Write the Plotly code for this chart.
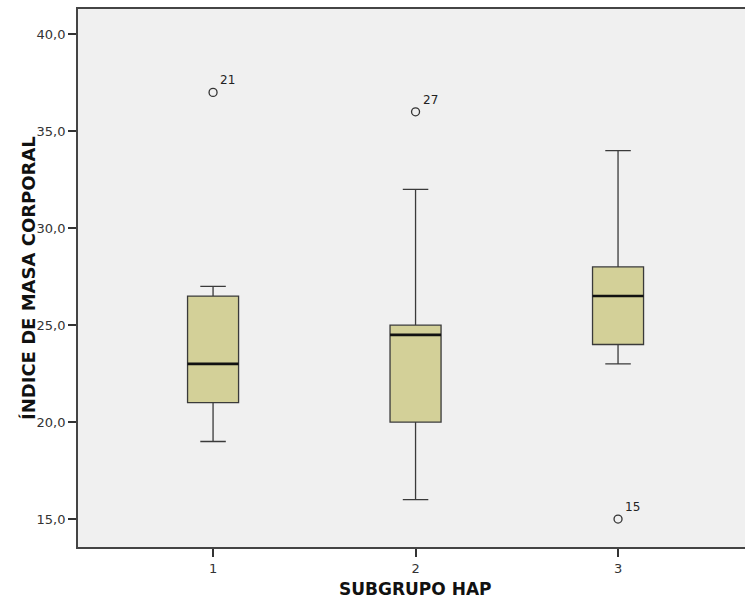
import plotly.graph_objects as go

# ---- data ----
groups = [1, 2, 3]
group_labels = ["1", "2", "3"]
lower_whisker = [19.0, 16.0, 23.0]
q1_vals = [21.0, 20.0, 24.0]
median_vals = [23.0, 24.5, 26.5]
q3_vals = [26.5, 25.0, 28.0]
upper_whisker = [27.0, 32.0, 34.0]

outlier_x = [1, 2, 3]
outlier_y = [37.0, 36.0, 15.0]
outlier_ids = ["21", "27", "15"]

y_ticks = [15, 20, 25, 30, 35, 40]
y_tick_text = ["15,0", "20,0", "25,0", "30,0", "35,0", "40,0"]

x_title = "SUBGRUPO HAP"
y_title = "ÍNDICE DE MASA CORPORAL"

BOX_W = 0.252
FILL = "#d3d098"
LINE = "#3a3a3a"

fig = go.Figure()

fig.add_trace(go.Box(
    x=groups, q1=q1_vals, median=median_vals, q3=q3_vals,
    lowerfence=lower_whisker, upperfence=upper_whisker,
    width=BOX_W, whiskerwidth=0.5,
    fillcolor=FILL, line=dict(color=LINE, width=1.3),
    boxpoints=False, hoverinfo="skip", showlegend=False,
))

# thicker median lines
mx, my = [], []
for g, m in zip(groups, median_vals):
    mx += [g - BOX_W / 2, g + BOX_W / 2, None]
    my += [m, m, None]
fig.add_trace(go.Scatter(x=mx, y=my, mode="lines",
                         line=dict(color="#111111", width=2.6),
                         hoverinfo="skip", showlegend=False))

# outliers
fig.add_trace(go.Scatter(
    x=outlier_x, y=outlier_y, mode="markers",
    marker=dict(symbol="circle-open", size=8, color="#333333",
                line=dict(width=1.3, color="#333333")),
    hoverinfo="skip", showlegend=False,
))
for ox, oy, lab in zip(outlier_x, outlier_y, outlier_ids):
    fig.add_annotation(x=ox, y=oy, text=lab, showarrow=False,
                       xanchor="left", yanchor="middle", xshift=5, yshift=12,
                       font=dict(family="DejaVu Sans", size=12, color="#222222"))

PL, PR, PT, PB = 78, 0, 9, 53
plot_w = 745 - PL - PR

fig.add_annotation(text=y_title, xref="paper", yref="paper",
                   x=-(PL - 28) / plot_w, y=0.5, textangle=-90,
                   showarrow=False, xanchor="center", yanchor="middle",
                   font=dict(family="DejaVu Sans", size=18, color="#111111", weight="bold"))
fig.add_annotation(text=x_title, xref="x", yref="paper",
                   x=groups[1], y=-(589 - 547) / (600 - PT - PB),
                   showarrow=False, xanchor="center", yanchor="middle",
                   font=dict(family="DejaVu Sans", size=17, color="#111111", weight="bold"))

fig.update_layout(
    width=745, height=600,
    margin=dict(l=PL, r=PR, t=PT, b=PB),
    paper_bgcolor="white", plot_bgcolor="#f0f0f0",
    font=dict(family="DejaVu Sans", size=13, color="#333333"),
    xaxis=dict(range=[0.333, 3.627], tickmode="array", tickvals=groups,
               ticktext=group_labels, ticks="outside", ticklen=8, tickwidth=1.5,
               tickcolor="#333333", showline=True, linecolor="#444444",
               linewidth=1.8, mirror=True, showgrid=False, zeroline=False,
               tickfont=dict(size=13, color="#333333")),
    yaxis=dict(range=[13.56, 41.30], tickmode="array", tickvals=y_ticks,
               ticktext=y_tick_text, ticks="outside", ticklen=8, tickwidth=1.5,
               tickcolor="#333333", showline=True, linecolor="#444444",
               linewidth=1.8, showgrid=False, zeroline=False,
               tickfont=dict(size=13, color="#333333")),
)

fig.write_html("out.html")
